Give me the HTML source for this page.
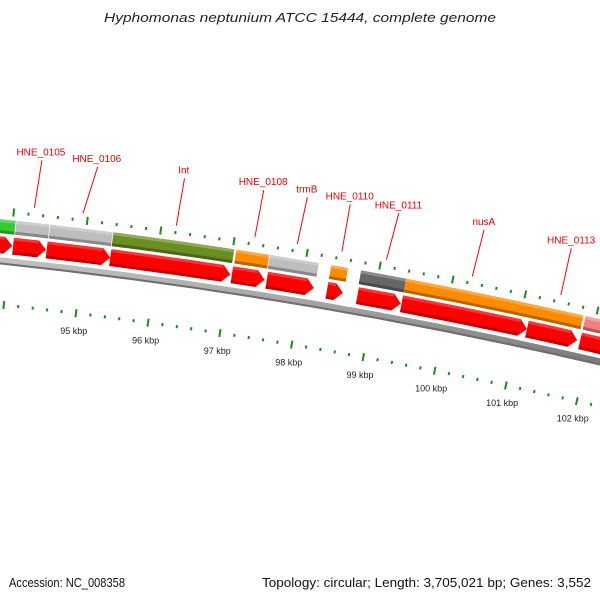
<!DOCTYPE html>
<html><head><meta charset="utf-8"><style>
html,body{margin:0;padding:0;background:#fff;}
svg{display:block;font-family:"Liberation Sans","DejaVu Sans",sans-serif;}
</style></head><body>
<svg id="chart" width="600" height="600" viewBox="0 0 600 600" xmlns="http://www.w3.org/2000/svg">
<defs>
<linearGradient id="gBack" x1="0" y1="0" x2="0" y2="1"><stop offset="0" stop-color="#c8c8c8"/><stop offset="0.5" stop-color="#999"/><stop offset="1" stop-color="#666"/></linearGradient>
</defs>
<text x="300" y="22" text-anchor="middle" font-size="13" font-style="italic" fill="#222" textLength="392" lengthAdjust="spacingAndGlyphs">Hyphomonas neptunium ATCC 15444, complete genome</text>
<g id="layer"></g>
<text x="9" y="587" font-size="12.5" fill="#111" textLength="116" lengthAdjust="spacingAndGlyphs">Accession: NC_008358</text>
<text x="591" y="587" text-anchor="end" font-size="12.5" fill="#111" textLength="329" lengthAdjust="spacingAndGlyphs">Topology: circular; Length: 3,705,021 bp; Genes: 3,552</text>
</svg>
<script>
// ---- data (kbp) ----
const featStart = [93.5, 94.05, 94.51, 95.37, 97.05, 97.51, 98.35, 98.76, 99.38, 101.86];
const featEnd   = [94.04, 94.50, 95.36, 97.02, 97.50, 98.18, 98.58, 99.38, 101.83, 103.0];
const featColor = ['#33cc33','#bdbdbd','#bdbdbd','#6b8e23','#ff8c00','#bdbdbd','#ff8c00','#666666','#ff8c00','#f08080'];
const cdsStart = [93.5, 94.04, 94.50, 95.37, 97.04, 97.52, 98.35, 98.77, 99.38, 101.12, 101.86];
const cdsEnd   = [94.03, 94.49, 95.37, 97.02, 97.49, 98.17, 98.57, 99.37, 101.12, 101.82, 103.0];
const geneNames = ['HNE_0105','HNE_0106','Int','HNE_0108','trmB','HNE_0110','HNE_0111','nusA','HNE_0113'];
const geneKbp   = [94.27, 94.93, 96.20, 97.27, 97.85, 98.46, 99.07, 100.25, 101.47];
const labelKbp  = [94.30, 95.05, 96.22, 97.29, 97.88, 98.46, 99.12, 100.28, 101.47];
const majorTicks = [95, 96, 97, 98, 99, 100, 101, 102];
const tickLabels = ['95 kbp','96 kbp','97 kbp','98 kbp','99 kbp','100 kbp','101 kbp','102 kbp'];

// ---- geometry ----
const CX=-519, CY=5174, T0=0.1218, DT=0.01484;
const NS='http://www.w3.org/2000/svg';
const layer=document.getElementById('layer');
function ang(k){return T0+(k-95)*DT;}
function pt(k,r){const t=ang(k);return [CX+r*Math.sin(t), CY-r*Math.cos(t)];}
function P(p){return p[0].toFixed(2)+' '+p[1].toFixed(2);}
function mk(tag,attrs){const e=document.createElementNS(NS,tag);for(const a in attrs)e.setAttribute(a,attrs[a]);layer.appendChild(e);return e;}
function bandPath(k1,k2,r1,r2){
  return 'M'+P(pt(k1,r2))+' A'+r2+' '+r2+' 0 0 1 '+P(pt(k2,r2))+' L'+P(pt(k2,r1))+' A'+r1+' '+r1+' 0 0 0 '+P(pt(k1,r1))+'Z';
}
function arrowPath(k1,k2,r1,r2){
  const h=8/(((r1+r2)/2)*DT); const kh=Math.max(k1,k2-h); const rm=(r1+r2)/2;
  return 'M'+P(pt(k1,r2))+' A'+r2+' '+r2+' 0 0 1 '+P(pt(kh,r2))+' L'+P(pt(k2,rm))+' L'+P(pt(kh,r1))+' A'+r1+' '+r1+' 0 0 0 '+P(pt(k1,r1))+'Z';
}

// backbone
let e=mk('path',{d:bandPath(93,103.5,4937,4944),fill:'url(#gBack)'});


e=mk('path',{d:bandPath(93,103.5,4937,4939),fill:'#6e6e6e'});



// feature track
featStart.forEach((s,i)=>{
  let f=mk('path',{d:bandPath(s,featEnd[i],4968,4982),fill:featColor[i]});
  
  
  let hi=mk('path',{d:bandPath(s,featEnd[i],4979,4982),fill:'#fff','fill-opacity':0.25});
  
  
  let sh=mk('path',{d:bandPath(s,featEnd[i],4968,4971),fill:'#000','fill-opacity':0.28});
  
  
});

// CDS arrows
cdsStart.forEach((s,i)=>{
  let a=mk('path',{d:arrowPath(s,cdsEnd[i],4948,4965),fill:'#ff0000'});
  
  
  let sh=mk('path',{d:bandPath(s,Math.max(s,cdsEnd[i]-8/(4956*DT)),4948,4951),fill:'#a00000','fill-opacity':0.6});
  
  
  let hi=mk('path',{d:bandPath(s,Math.max(s,cdsEnd[i]-8/(4956*DT)),4962,4965),fill:'#fff','fill-opacity':0.2});
  
  
});

// ticks (outer and inner rings)
for(let n=0;n<=50;n++){
  const k=93+n*0.2; const major=(n%5===0);
  const rings=[[major?4986:4988.5, major?4994:4991.5],[major?4893:4895.5, major?4901:4898.5]];
  rings.forEach((rr,j)=>{
    const p1=pt(k,rr[0]),p2=pt(k,rr[1]);
    let t=mk('line',{x1:p1[0],y1:p1[1],x2:p2[0],y2:p2[1],stroke:'#1a8c1a','stroke-width':2});
    
    
  });
}
majorTicks.forEach((k,i)=>{
  const p=pt(k,4879);
  let t=mk('text',{x:p[0],y:p[1]+3,'text-anchor':'middle','font-size':9,fill:'#222'});
  t.textContent=tickLabels[i];
  
  
});

// gene labels
geneNames.forEach((g,i)=>{
  const p1=pt(geneKbp[i],4997), p2=pt(labelKbp[i],5045);
  let l=mk('line',{x1:p1[0],y1:p1[1],x2:p2[0],y2:p2[1],stroke:'#ff0000','stroke-width':1});
  
  
  const p3=pt(labelKbp[i],5054);
  let t=mk('text',{x:p3[0]-2,y:p3[1]+4,'text-anchor':'middle','font-size':10,fill:'#ee0000'});
  t.textContent=g;
  
  
});
</script>
</body></html>
